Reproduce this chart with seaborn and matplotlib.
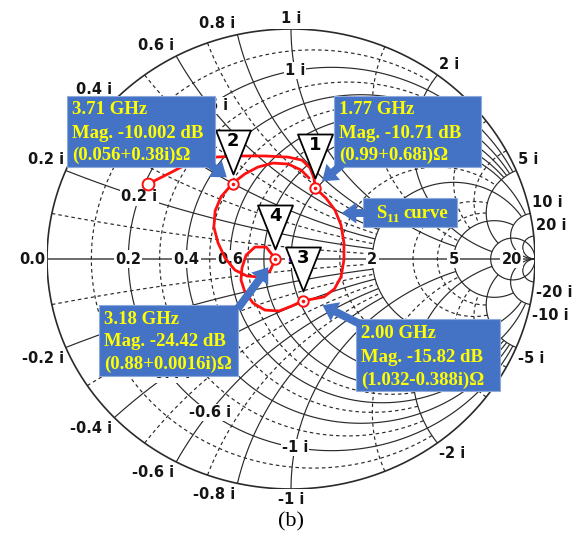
import numpy as np
import matplotlib
matplotlib.use("Agg")
import matplotlib.pyplot as plt
import seaborn as sns
import pandas as pd
from matplotlib.path import Path
from matplotlib.patches import Rectangle, FancyArrowPatch, ArrowStyle
from matplotlib.transforms import Affine2D

# ---------------- data ----------------
# measured S11 trace (reflection coefficient, real / imaginary part)
s11_re = [-0.586, -0.496, -0.402, -0.311, -0.209, -0.107, -0.012, 0.045, 0.078, 0.094,
          0.100, 0.143, 0.180, 0.205, 0.217, 0.217, 0.205, 0.178, 0.135, 0.090,
          0.050, 0.004, -0.049, -0.107, -0.156, -0.189, -0.205, -0.201, -0.184, -0.148,
          -0.102, -0.064, -0.086, -0.131, -0.180, -0.230, -0.270, -0.299, -0.316, -0.311,
          -0.287, -0.238, -0.189, -0.135, -0.074, -0.012, 0.041, 0.074]
s11_im = [0.326, 0.374, 0.426, 0.443, 0.448, 0.448, 0.443, 0.430, 0.396, 0.352,
          0.308, 0.265, 0.213, 0.148, 0.070, -0.004, -0.078, -0.130, -0.165, -0.174,
          -0.181, -0.204, -0.226, -0.222, -0.191, -0.143, -0.091, -0.039, 0.017, 0.052,
          0.052, 0.001, -0.052, -0.078, -0.074, -0.048, 0.004, 0.070, 0.139, 0.209,
          0.270, 0.330, 0.370, 0.400, 0.417, 0.413, 0.387, 0.352]

# markers: normalized impedance r + jx
marker_ids = ["1", "2", "3", "4"]
marker_r = [0.99, 0.51, 1.032, 0.88]
marker_x = [0.68, 0.40, -0.388, 0.0016]
marker_freq = ["1.77 GHz", "3.71 GHz", "2.00 GHz", "3.18 GHz"]
marker_mag = ["Mag. -10.71 dB", "Mag. -10.002 dB", "Mag. -15.82 dB", "Mag. -24.42 dB"]
marker_imp = ["(0.99+0.68i)\u03a9", "(0.056+0.38i)\u03a9", "(1.032-0.388i)\u03a9", "(0.88+0.0016i)\u03a9"]

# Smith chart grid
major_r = [0.2, 0.4, 0.6, 0.8, 1, 2, 5]
minor_r = [0.1, 0.3, 0.5, 0.7, 1.5, 3, 4]
major_x = [0.2, 0.4, 0.6, 0.8, 1, 2, 5, 10, 20]
minor_x = [0.1, 0.3, 0.5, 0.7, 1.5, 3, 4]
axis_ticks = [0.0, 0.2, 0.4, 0.6, 1, 2, 5, 20]
rim_ticks = [0.2, 0.4, 0.6, 0.8, 1, 2, 5, 10, 20]
inner_ticks = [0.2, 0.4, 0.6, 1]

# ---------------- style ----------------
sns.set_theme(style="white")
plt.rcParams["font.family"] = ["DejaVu Sans"]

W, H = 582, 544
fig = plt.figure(figsize=(W / 100, H / 100), dpi=100)
ax = fig.add_axes([47 / W, 1 - 489 / H, 488 / W, 460 / H])
ax.set_xlim(-1, 1)
ax.set_ylim(-1, 1)
ax.set_axis_off()

# pixel-based transform for annotation furniture (origin top-left)
pix = Affine2D().scale(1 / W, -1 / H).translate(0, 1) + fig.transFigure

GRID = "#2a2a2a"
LBL = "#151515"


def gamma(z):
    return (z - 1) / (z + 1)


def r_circle(r, xmax=None):
    if xmax is None:
        t = np.linspace(0, 2 * np.pi, 800)
        c, rad = r / (1 + r), 1 / (1 + r)
        return c + rad * np.cos(t), rad * np.sin(t)
    a = np.arctan(xmax)
    t = np.tan(np.linspace(-a, a, 800))
    g = gamma(r + 1j * t)
    return g.real, g.imag


def x_arc(x, rmax=None):
    a = np.pi / 2 - 1e-5 if rmax is None else np.arctan(rmax)
    s = np.tan(np.linspace(0, a, 800))
    g = gamma(s + 1j * x)
    return g.real, g.imag


solid_kw = dict(color=GRID, lw=0.85, zorder=1, solid_capstyle="butt")
dash_kw = dict(color=GRID, lw=0.85, ls=(0, (3, 2.6)), zorder=1)

# outer boundary and real axis
t = np.linspace(0, 2 * np.pi, 800)
ax.plot(np.cos(t), np.sin(t), color=GRID, lw=1.2, zorder=1)
ax.plot([-1, 1], [0, 0], color="#444444", lw=1.1, zorder=1)

# constant-resistance circles (each stopped at a reactance arc)
for r in major_r:
    ax.plot(*r_circle(r, 5 if r < 1 else 10), **solid_kw)
ax.plot(*r_circle(10), **solid_kw)
for r in minor_r:
    ax.plot(*r_circle(r, 2 if r < 1 else 5), **dash_kw)

# constant-reactance arcs (each stopped at a resistance circle)
for x in major_x:
    if x < 1:
        rmax = 2
    elif x == 1:
        rmax = 5
    elif x <= 5:
        rmax = 10
    else:
        rmax = None
    for sgn in (1, -1):
        ax.plot(*x_arc(sgn * x, rmax), **solid_kw)
for x in minor_x:
    for sgn in (1, -1):
        ax.plot(*x_arc(sgn * x, 2 if x < 1 else 5), **dash_kw)

lbl_font = dict(fontsize=10.5, fontweight="bold", color=LBL, family="DejaVu Sans")
wbox = dict(boxstyle="square,pad=0.08", fc="white", ec="none")

# resistance labels on the real axis
for v in axis_ticks:
    g = gamma(complex(v))
    if v == 0:
        ax.annotate("0.0", (g.real, 0), xytext=(-1, 0), textcoords="offset points",
                    ha="right", va="center", zorder=3, **lbl_font)
    else:
        ax.annotate(f"{v:g}", (g.real, 0), ha="center", va="center",
                    bbox=wbox, zorder=3, **lbl_font)

# reactance labels around the rim
for v in rim_ticks:
    for sgn in (1, -1):
        g = gamma(1j * sgn * v)
        c, s = g.real, g.imag
        if abs(c) < 0.05:
            ha, dx = "center", 0
        else:
            ha, dx = ("left", 1.5) if c > 0 else ("right", -1.5)
        va, dy = ("bottom", 2.5) if s > 0 else ("top", -2.5)
        txt = f"{v:g} i" if sgn > 0 else f"-{v:g} i"
        ax.annotate(txt, (c, s), xytext=(dx, dy), textcoords="offset points",
                    ha=ha, va=va, zorder=3, annotation_clip=False, **lbl_font)

# reactance labels along the r = 0.2 circle
for v in inner_ticks:
    for sgn in (1, -1):
        g = gamma(0.2 + 1j * sgn * v)
        txt = f"{v:g} i" if sgn > 0 else f"-{v:g} i"
        ax.annotate(txt, (g.real, g.imag), ha="center", va="center",
                    bbox=wbox, zorder=3, **lbl_font)

# centre of the chart
ax.plot([0], [0], marker="o", ms=4, color="#6a0dff", mec="none", zorder=4)

# ---------------- S11 curve ----------------
curve = pd.DataFrame({"re": s11_re, "im": s11_im})
sns.lineplot(data=curve, x="re", y="im", sort=False, estimator=None, ax=ax,
             color="#ff1010", lw=2.0, zorder=5)
ax.lines[-1].set_solid_joinstyle("round")
ax.plot([s11_re[0]], [s11_im[0]], marker="o", ms=8.5, mfc="white", mec="#ff1010",
        mew=1.4, zorder=6)

mz = np.array(marker_r) + 1j * np.array(marker_x)
mg = gamma(mz)
ax.plot(mg.real, mg.imag, ls="none", marker="o", ms=7.5, mfc="white",
        mec="#ff1010", mew=1.4, zorder=6)
ax.plot(mg.real, mg.imag, ls="none", marker="o", ms=2.6, color="#ff1010",
        mec="none", zorder=7)

# marker flags: inverted triangles above each point
tri = Path([(0, 10), (-17.5, 54), (17.5, 54), (0, 10)],
           [Path.MOVETO, Path.LINETO, Path.LINETO, Path.CLOSEPOLY])
ax.plot(mg.real, mg.imag, ls="none", marker=tri, ms=2 * 54 * 0.72, mfc="white",
        mec="black", mew=1.3, zorder=8)
for gid, g in zip(marker_ids, mg):
    ax.annotate(gid, (g.real, g.imag), xytext=(0, 31), textcoords="offset points",
                ha="center", va="center", fontsize=13, fontweight="bold",
                color="black", zorder=9)

# ---------------- call-out boxes ----------------
BLUE = "#4472c4"
YEL = "#ffff00"
box_font = dict(fontsize=13.5, fontweight="bold", color=YEL,
                family="Liberation Serif", transform=pix, zorder=11)


def callout(x0, y0, x1, y1, lines, tx, ty):
    fig.add_artist(Rectangle((x0, y0), x1 - x0, y1 - y0, transform=pix,
                             fc=BLUE, ec="#8eaadb", lw=0.8, zorder=10))
    for line, yy in zip(lines, ty):
        fig.text(tx, yy, line, ha="left", va="center", **box_font)


def arrow(tail, tip):
    fig.add_artist(FancyArrowPatch(tail, tip, transform=pix,
                                   arrowstyle=ArrowStyle.Simple(head_length=0.55, head_width=0.8,
                                                                tail_width=0.3),
                                   mutation_scale=19, color=BLUE, lw=0, zorder=12))


order = [1, 0, 3, 2]  # 3.71, 1.77, 3.18, 2.00 GHz boxes
boxes = [(67, 96, 215, 167, 72, (110, 133, 155)),
         (334, 96, 481, 167, 339, (110, 133, 155)),
         (99, 305, 238, 376, 104, (320, 342, 364)),
         (356, 319, 500, 391, 361, (334, 357, 380))]
for i, (x0, y0, x1, y1, tx, ty) in zip(order, boxes):
    callout(x0, y0, x1, y1, [marker_freq[i], marker_mag[i], marker_imp[i]], tx, ty)

arrow((204, 160), (229, 179))
arrow((344, 163), (320, 183))
arrow((236, 311), (270, 265))
arrow((364, 326), (320, 304))

# S11 label box
fig.add_artist(Rectangle((363, 198), 94, 29, transform=pix, fc=BLUE, ec="#8eaadb",
                         lw=0.8, zorder=10))
fig.text(376, 213, "S", ha="left", va="center", **box_font)
fig.text(387, 219, "11", ha="left", va="center", **{**box_font, "fontsize": 9.5})
fig.text(403, 213, "curve", ha="left", va="center", **box_font)
arrow((372, 213), (339, 213))

# caption
fig.text(291, 522, "(b)", ha="center", va="center", fontsize=16,
         family="Liberation Serif", color="black", transform=pix)

fig.savefig("out.png", dpi=100)
